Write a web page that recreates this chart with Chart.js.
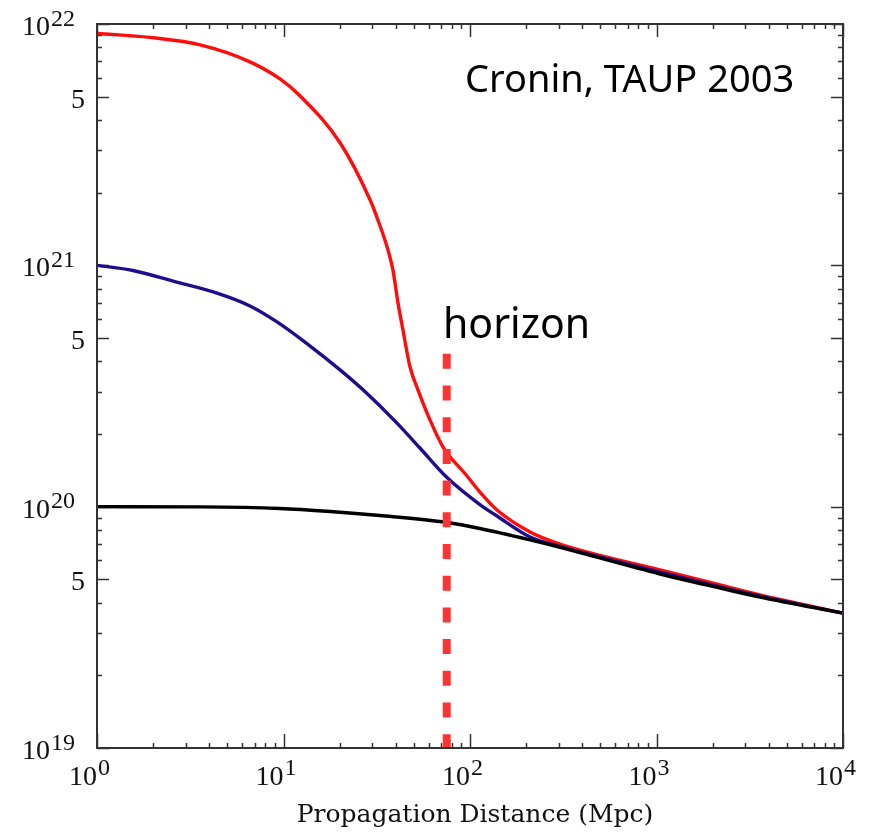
<!DOCTYPE html>
<html><head><meta charset="utf-8">
<script src="https://cdn.jsdelivr.net/npm/chart.js@4"></script>
<style>html,body{margin:0;padding:0;background:#fff}#wrap{width:877px;height:833px}</style>
</head><body><div id="wrap"><canvas id="c" width="877" height="833"></canvas></div>
<script>
// ---- data (distance in Mpc, energy in eV) ----
const redDistance = [1, 1.92, 3.57, 6.61, 9.58, 12.25, 20.1, 29.1, 32.1, 36.3, 38.6, 41.1, 43.7, 47.7, 52.6, 61.0, 71.6, 96.4, 113, 139.5, 210, 304, 1045, 2190, 3589, 10000];
const redEnergy   = [9.14e21, 8.80e21, 8.19e21, 6.97e21, 5.92e21, 5.04e21, 3.22e21, 1.87e21, 1.54e21, 1.16e21, 9.57e20, 6.99e20, 5.40e20, 3.79e20, 3.05e20, 2.29e20, 1.77e20, 1.34e20, 1.15e20, 9.69e19, 7.86e19, 7.00e19, 5.47e19, 4.74e19, 4.31e19, 3.62e19];

const blueDistance = [1, 1.56, 2.56, 4.40, 6.61, 9.23, 13.4, 20.1, 26.7, 40.6, 53.9, 75.3, 113, 139.5, 210, 304, 1045, 2190, 3589, 10000];
const blueEnergy   = [1.0e21, 9.52e20, 8.60e20, 7.67e20, 6.79e20, 5.83e20, 4.73e20, 3.69e20, 3.05e20, 2.22e20, 1.75e20, 1.32e20, 1.02e20, 9.15e19, 7.49e19, 6.84e19, 5.36e19, 4.65e19, 4.26e19, 3.62e19];

const blackDistance = [1, 3.57, 9.58, 17.8, 32.9, 75.3, 113, 210, 304, 1045, 2190, 3589, 10000];
const blackEnergy   = [1.0e20, 9.98e19, 9.83e19, 9.55e19, 9.19e19, 8.60e19, 8.12e19, 7.28e19, 6.78e19, 5.26e19, 4.60e19, 4.22e19, 3.62e19];

const horizonDistance = [75, 75];
const horizonEnergy   = [4.3e20, 1e19];

// ---- axes / ticks / texts ----
const xRange = [1, 1e4];
const yRange = [1e19, 1e22];
const xTickValues = [1, 10, 100, 1000, 10000];
const xTickBase = ['10', '10', '10', '10', '10'];
const xTickSup = ['0', '1', '2', '3', '4'];
const yTickValues = [1e19, 5e19, 1e20, 5e20, 1e21, 5e21, 1e22];
const yTickBase = ['10', '5', '10', '5', '10', '5', '10'];
const yTickSup = ['19', '', '20', '', '21', '', '22'];
const xAxisTitle = 'Propagation Distance (Mpc)';
const annotationText = 'Cronin, TAUP 2003';
const horizonText = 'horizon';

function pts(xs, ys) { return xs.map((x, i) => ({x: x, y: ys[i]})); }

const decoPlugin = {
  id: 'deco',
  beforeDatasetsDraw(chart) {
    const ctx = chart.ctx, a = chart.chartArea, xs = chart.scales.x, ys = chart.scales.y;
    ctx.save();
    ctx.strokeStyle = '#333';
    ctx.lineWidth = 1.5;
    ctx.beginPath();
    for (let e = 19; e < 22; e++) {
      for (let k = 2; k <= 9; k++) {
        const y = Math.round(ys.getPixelForValue(k * Math.pow(10, e))) + 0.5;
        const L = (k === 5) ? 12 : 5;
        ctx.moveTo(a.left, y); ctx.lineTo(a.left + L, y);
        ctx.moveTo(a.right, y); ctx.lineTo(a.right - L, y);
      }
    }
    for (let e = 19; e <= 22; e++) {
      const y = Math.round(ys.getPixelForValue(Math.pow(10, e))) + 0.5;
      ctx.moveTo(a.left, y); ctx.lineTo(a.left + 12, y);
      ctx.moveTo(a.right, y); ctx.lineTo(a.right - 12, y);
    }
    for (let e = 0; e < 4; e++) {
      for (let k = 2; k <= 9; k++) {
        const x = Math.round(xs.getPixelForValue(k * Math.pow(10, e))) + 0.5;
        ctx.moveTo(x, a.bottom); ctx.lineTo(x, a.bottom - 5);
        ctx.moveTo(x, a.top); ctx.lineTo(x, a.top + 5);
      }
    }
    for (let e = 0; e <= 4; e++) {
      const x = Math.round(xs.getPixelForValue(Math.pow(10, e))) + 0.5;
      ctx.moveTo(x, a.bottom); ctx.lineTo(x, a.bottom - 14);
      ctx.moveTo(x, a.top); ctx.lineTo(x, a.top + 13);
    }
    ctx.stroke();
    ctx.restore();
  },
  afterDatasetsDraw(chart) {
    const ctx = chart.ctx, a = chart.chartArea, xs = chart.scales.x, ys = chart.scales.y;
    ctx.save();
    ctx.strokeStyle = '#333';
    ctx.lineWidth = 2;
    ctx.strokeRect(a.left, a.top, a.right - a.left, a.bottom - a.top);

    const baseFont = '28px "Liberation Serif"';
    const supFont = '24px "Liberation Serif"';
    ctx.fillStyle = '#111';
    ctx.textBaseline = 'alphabetic';
    yTickValues.forEach((v, i) => {
      const y = ys.getPixelForValue(v);
      ctx.font = baseFont;
      const bw = ctx.measureText(yTickBase[i]).width;
      ctx.font = supFont;
      const sw = yTickSup[i] ? ctx.measureText(yTickSup[i]).width : 0;
      const right = yTickSup[i] ? a.left - 23 : a.left - 12;
      const x0 = right - bw - sw;
      ctx.textAlign = 'left';
      ctx.font = baseFont;
      ctx.fillText(yTickBase[i], x0, y + 11);
      if (yTickSup[i]) {
        ctx.font = supFont;
        ctx.fillText(yTickSup[i], x0 + bw + 1, y + 1.5);
      }
    });
    xTickValues.forEach((v, i) => {
      const x = xs.getPixelForValue(v);
      ctx.font = baseFont;
      ctx.textAlign = 'right';
      ctx.fillText(xTickBase[i], x, a.bottom + 37);
      ctx.font = supFont;
      ctx.textAlign = 'left';
      ctx.fillText(xTickSup[i], x + 1, a.bottom + 27);
    });
    ctx.font = '25px "DejaVu Serif"';
    ctx.textAlign = 'center';
    ctx.fillText(xAxisTitle, 475, a.bottom + 74);

    ctx.fillStyle = '#000';
    ctx.textAlign = 'left';
    ctx.font = '38px "Noto Sans"';
    ctx.fillText(annotationText, 465, 92);
    ctx.font = '41px "Noto Sans"';
    ctx.fillText(horizonText, 443, 338);
    ctx.restore();
  }
};

new Chart(document.getElementById('c'), {
  type: 'line',
  data: {
    datasets: [
      { data: pts(horizonDistance, horizonEnergy), borderColor: '#ff3333', borderWidth: 8, borderDash: [15, 16.7], borderCapStyle: 'butt', tension: 0, pointRadius: 0 },
      { data: pts(blackDistance, blackEnergy), borderColor: '#000000', borderWidth: 3.4, cubicInterpolationMode: 'monotone', pointRadius: 0 },
      { data: pts(blueDistance, blueEnergy), borderColor: '#1f0d8c', borderWidth: 3.4, cubicInterpolationMode: 'monotone', pointRadius: 0 },
      { data: pts(redDistance, redEnergy), borderColor: '#ff0d0d', borderWidth: 3.4, cubicInterpolationMode: 'monotone', pointRadius: 0 }
    ]
  },
  options: {
    responsive: false,
    animation: false,
    devicePixelRatio: 1,
    layout: { padding: { left: 97, right: 34, top: 24, bottom: 85 } },
    plugins: { legend: { display: false }, tooltip: { enabled: false } },
    scales: {
      x: { type: 'logarithmic', min: xRange[0], max: xRange[1], display: false },
      y: { type: 'logarithmic', min: yRange[0], max: yRange[1], display: false }
    }
  },
  plugins: [decoPlugin]
});
</script>
</body></html>
